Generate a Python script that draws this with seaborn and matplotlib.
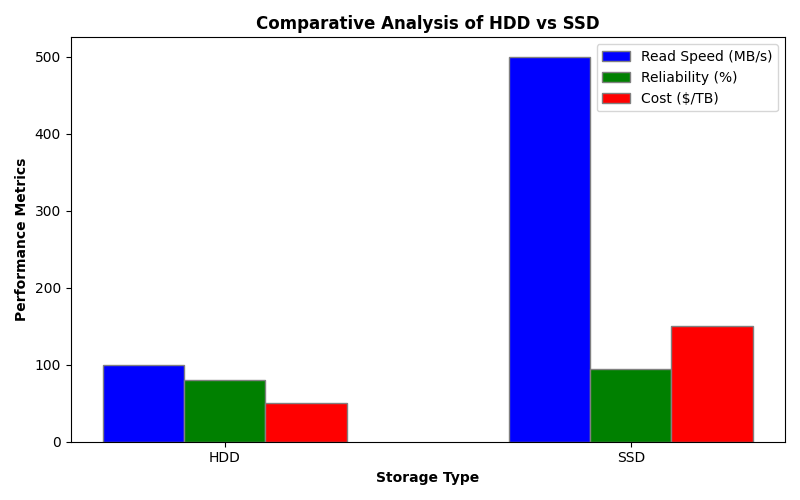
import matplotlib
matplotlib.use("Agg")
import matplotlib.pyplot as plt
import seaborn as sns
import pandas as pd

storage_types = ["HDD", "SSD"]
metrics = ["Read Speed (MB/s)", "Reliability (%)", "Cost ($/TB)"]
read_speed = [100, 500]
reliability = [80, 95]
cost = [50, 150]
colors = ["blue", "green", "red"]

rows = []
for m, vals in zip(metrics, [read_speed, reliability, cost]):
    for s, v in zip(storage_types, vals):
        rows.append({"Storage Type": s, "Metric": m, "Value": v})
df = pd.DataFrame(rows)

fig, ax = plt.subplots(figsize=(8, 5), dpi=100)
sns.barplot(data=df, x="Storage Type", y="Value", hue="Metric",
            hue_order=metrics, order=storage_types, palette=colors,
            width=0.6, edgecolor="grey", linewidth=1, saturation=1,
            errorbar=None, ax=ax)
ax.set_xlim(-0.38, 1.38)
ax.set_title("Comparative Analysis of HDD vs SSD", fontweight="bold", fontsize=12)
ax.set_xlabel("Storage Type", fontweight="bold")
ax.set_ylabel("Performance Metrics", fontweight="bold")
ax.legend(loc="upper right")
fig.tight_layout()
fig.savefig("out.png", dpi=100)
